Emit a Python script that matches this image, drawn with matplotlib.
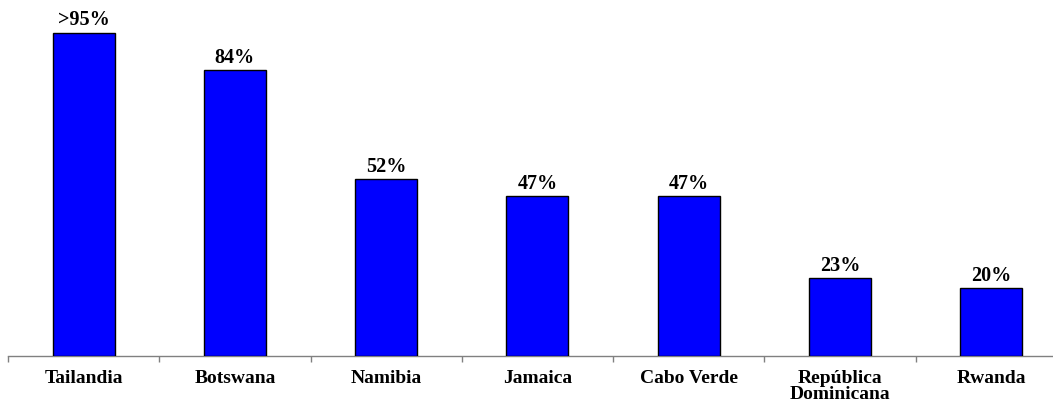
import matplotlib
matplotlib.use("Agg")
import matplotlib.pyplot as plt
import numpy as np

countries = ["Tailandia", "Botswana", "Namibia", "Jamaica", "Cabo Verde",
             "República\nDominicana", "Rwanda"]
coverage = [95, 84, 52, 47, 47, 23, 20]
value_labels = [">95%", "84%", "52%", "47%", "47%", "23%", "20%"]

plt.rcParams["font.family"] = ["Liberation Serif", "DejaVu Serif"]

fig = plt.figure(figsize=(10.53, 4.08), dpi=100)
ax = fig.add_axes([8 / 1053, 52 / 408, 1058.75 / 1053, 340.5 / 408])

x = np.arange(len(countries))
bars = ax.bar(x, coverage, width=0.41, color="#0000FF", edgecolor="black",
              linewidth=1.0, zorder=3)

for xi, v, lab in zip(x, coverage, value_labels):
    ax.annotate(lab, (xi, v), xytext=(0, 1.5), textcoords="offset points",
                ha="center", va="bottom", fontsize=14.5, fontweight="bold")

ax.set_xlim(-0.5, len(countries) - 0.5)
ax.set_ylim(0, 100)

ax.set_xticks(x)
ax.set_xticklabels(countries, fontsize=14, fontweight="bold", linespacing=0.95)
ax.tick_params(axis="x", which="major", length=0, pad=10)
ax.set_xticks(np.arange(-0.5, len(countries), 1.0), minor=True)
ax.tick_params(axis="x", which="minor", length=4, direction="out",
               color="#808080", width=1)
ax.set_yticks([])

for s in ["top", "right", "left"]:
    ax.spines[s].set_visible(False)
ax.spines["bottom"].set_color("#808080")
ax.spines["bottom"].set_linewidth(1)

fig.savefig("out.png", dpi=100)
